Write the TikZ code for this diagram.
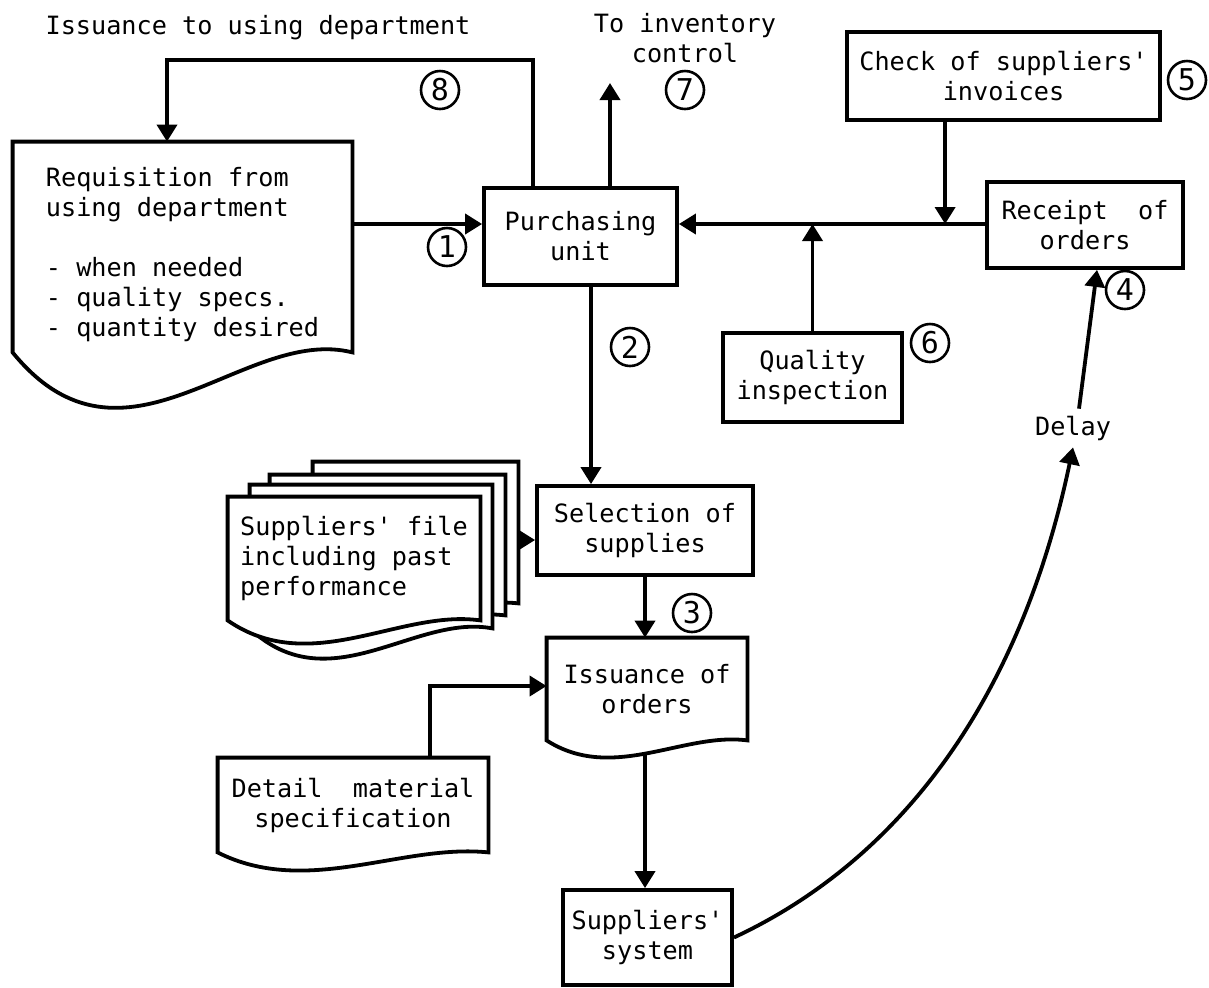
\documentclass[tikz,border=0pt]{standalone}
\usepackage{fontspec}
\setmonofont{DejaVu Sans Mono}
\usepackage{tikz}
\usetikzlibrary{calc,arrows.meta,positioning}

\newcommand{\docshape}[3][]{%
    \draw[line width=1.9pt,#1] (#2.south east) -- (#2.north east) -- (#2.north west) -- (#2.south west)
        .. controls ($(#2.south west)!0.33!(#2.south east)+(0,2.5*#3)$) and ($(#2.south west)!0.68!(#2.south east)+(0,-0.5*#3)$) .. cycle;}

\begin{document}
\begin{tikzpicture}[x=0.5pt, y=-0.5pt,
    font=\ttfamily\fontsize{12.6}{15}\selectfont,
    box/.style={draw, line width=1.9pt, align=center, inner sep=0pt},
    docnode/.style={align=left, inner sep=0pt},
    num/.style={draw, circle, line width=1.3pt, minimum size=19pt, inner sep=0pt, font=\ttfamily\fontsize{15}{15}\selectfont},
    arr/.style={line width=1.9pt, -{Triangle[length=8.5pt,width=10pt]}}]

    \useasboundingbox (0,0) rectangle (1209,987);

    \foreach \i/\x/\y/\w/\h/\d in {4/415.5/532.5/102.5/70.5/15, 3/387.5/545/117.5/70/18, 2/371/556.5/121/71.5/30, 1/354/558.5/126/61.5/23} {
        \node[minimum width=\w pt, minimum height=\h pt, inner sep=0pt] (stk\i) at (\x,\y) {};
        \docshape[fill=white]{stk\i}{\d}
    }
    \node[docnode] (file) at (stk1) {Suppliers' file\\including past\\performance};

    \node[docnode, minimum width=169.5pt, minimum height=105pt] (req) at (182.5,247) {\rule{0pt}{17pt}Requisition from\\using department\\[15pt]- when needed\\- quality specs.\\- quantity desired};
    \docshape{req}{55}
    \node[docnode, align=center, minimum width=100pt, minimum height=51pt] (iss) at (647,689) {Issuance of\\orders};
    \docshape{iss}{17}
    \node[docnode, align=center, minimum width=135pt, minimum height=47pt] (det) at (353,805) {Detail\ \ material\\specification};
    \docshape{det}{18}

    \node[box, minimum width=96.5pt, minimum height=48.5pt] (purch) at (580.5,236.5) {Purchasing\\unit};
    \node[box, minimum width=156.5pt, minimum height=44pt] (check) at (1003.5,76) {Check of suppliers'\\invoices};
    \node[box, minimum width=98pt, minimum height=43pt] (rec) at (1085,225) {Receipt\ \ of\\orders};
    \node[box, minimum width=89.5pt, minimum height=44.5pt] (qual) at (812.5,377.5) {Quality\\inspection};
    \node[box, minimum width=108pt, minimum height=44.5pt] (sel) at (645,530.5) {Selection of\\supplies};
    \node[box, minimum width=84.5pt, minimum height=47.5pt] (sys) at (647.5,937.5) {Suppliers'\\system};

    \node (title) at (258,28) {Issuance to using department};
    \node[align=center] (inv) at (685,38) {To inventory\\control};
    \node (delay) at (1073,428) {Delay};

    \foreach \n/\x/\y in {1/447/247, 2/630/347, 3/692/613, 4/1125/290, 5/1187/80, 6/930/343, 7/685/90, 8/440/90} {
        \node[num] (c\n) at (\x,\y) {\n};
    }

    \coordinate (flow) at (0,224);
    \coordinate (ret1) at (533,60);
    \coordinate (ret2) at (167,60);
    \coordinate (toinv) at (610,83);
    \coordinate (chk) at ([xshift=50pt]check.south west);
    \coordinate (down2) at (591,0);
    \coordinate (selin) at (0,540);
    \coordinate (detup) at (430,686);
    \coordinate (issout) at (645,755);

    \draw[arr] (req.east |- flow) -- (purch.west |- flow);
    \draw[arr] (rec.west |- flow) -- (purch.east |- flow);
    \draw[arr] (chk) -- (chk |- flow);
    \draw[arr] (qual.north) -- (qual.north |- flow);
    \draw[arr] (toinv |- purch.north) -- (toinv);
    \draw[arr] (ret1 |- purch.north) -- (ret1) -- (ret2) -- (ret2 |- req.north);
    \draw[arr] (down2 |- purch.south) -- (down2 |- sel.north);
    \draw[arr] (sel.south) -- (sel.south |- iss.north);
    \draw[arr] (stk4.east |- selin) -- (sel.west |- selin);
    \draw[arr] (detup |- det.north) -- (detup) -- (iss.west |- detup);
    \draw[arr] (issout) -- (issout |- sys.north);
    \draw[arr] (sys.east) .. controls (900,860) and (1020,700) .. (delay.south);
    \draw[arr] ([xshift=3pt]delay.north) -- ([xshift=6pt]rec.south);
\end{tikzpicture}
\end{document}
